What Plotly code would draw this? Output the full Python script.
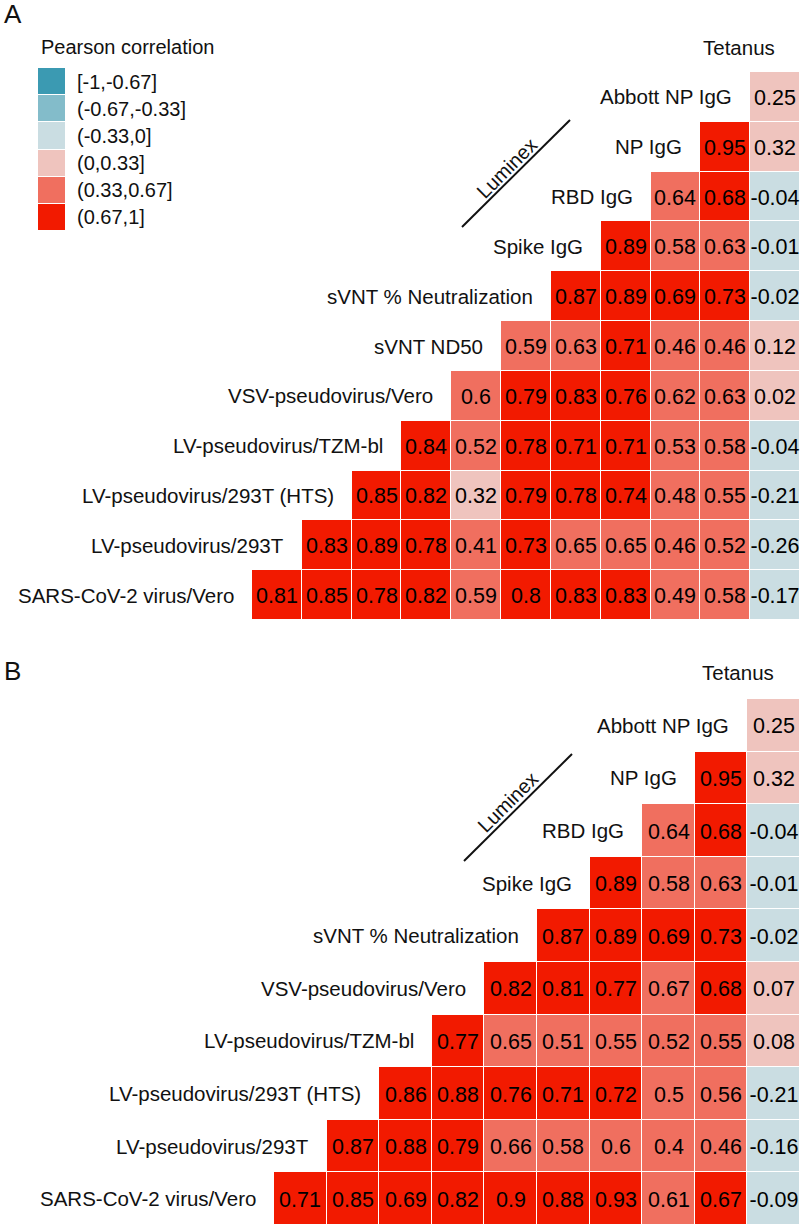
import plotly.graph_objects as go

W, H = 800, 1227
FONT = "Liberation Sans, Arial, Helvetica, sans-serif"

# ---------------- data ----------------
bin_labels = ["[-1,-0.67]", "(-0.67,-0.33]", "(-0.33,0]", "(0,0.33]", "(0.33,0.67]", "(0.67,1]"]
bin_colors = ["#3B9AB2", "#83BCCA", "#CADDE2", "#EFC4BE", "#F06F5F", "#F21A00"]
bin_edges = [-0.67, -0.33, 0.0, 0.33, 0.67]

# Panel A: row variables listed bottom -> top
labels_A = ["SARS-CoV-2 virus/Vero", "LV-pseudovirus/293T", "LV-pseudovirus/293T (HTS)",
            "LV-pseudovirus/TZM-bl", "VSV-pseudovirus/Vero", "sVNT ND50",
            "sVNT % Neutralization", "Spike IgG", "RBD IgG", "NP IgG", "Abbott NP IgG", "Tetanus"]
A_sars = [0.81, 0.85, 0.78, 0.82, 0.59, 0.80, 0.83, 0.83, 0.49, 0.58, -0.17]
A_lv293 = [0.83, 0.89, 0.78, 0.41, 0.73, 0.65, 0.65, 0.46, 0.52, -0.26]
A_hts = [0.85, 0.82, 0.32, 0.79, 0.78, 0.74, 0.48, 0.55, -0.21]
A_tzm = [0.84, 0.52, 0.78, 0.71, 0.71, 0.53, 0.58, -0.04]
A_vsv = [0.60, 0.79, 0.83, 0.76, 0.62, 0.63, 0.02]
A_nd50 = [0.59, 0.63, 0.71, 0.46, 0.46, 0.12]
A_pct = [0.87, 0.89, 0.69, 0.73, -0.02]
A_spike = [0.89, 0.58, 0.63, -0.01]
A_rbd = [0.64, 0.68, -0.04]
A_np = [0.95, 0.32]
A_abbott = [0.25]
rows_A = [A_sars, A_lv293, A_hts, A_tzm, A_vsv, A_nd50, A_pct, A_spike, A_rbd, A_np, A_abbott]

# Panel B
labels_B = ["SARS-CoV-2 virus/Vero", "LV-pseudovirus/293T", "LV-pseudovirus/293T (HTS)",
            "LV-pseudovirus/TZM-bl", "VSV-pseudovirus/Vero",
            "sVNT % Neutralization", "Spike IgG", "RBD IgG", "NP IgG", "Abbott NP IgG", "Tetanus"]
B_sars = [0.71, 0.85, 0.69, 0.82, 0.90, 0.88, 0.93, 0.61, 0.672, -0.09]
B_lv293 = [0.87, 0.88, 0.79, 0.66, 0.58, 0.60, 0.40, 0.46, -0.16]
B_hts = [0.86, 0.88, 0.76, 0.71, 0.72, 0.50, 0.56, -0.21]
B_tzm = [0.77, 0.65, 0.51, 0.55, 0.52, 0.55, 0.08]
B_vsv = [0.82, 0.81, 0.77, 0.668, 0.68, 0.07]
B_pct = [0.87, 0.89, 0.69, 0.73, -0.02]
B_spike = [0.89, 0.58, 0.63, -0.01]
B_rbd = [0.64, 0.68, -0.04]
B_np = [0.95, 0.32]
B_abbott = [0.25]
rows_B = [B_sars, B_lv293, B_hts, B_tzm, B_vsv, B_pct, B_spike, B_rbd, B_np, B_abbott]


def to_bin(v):
    return sum(1 for e in bin_edges if e < v)


def fmt(v):
    return "{:g}".format(round(v, 2))


colorscale = []
for i, c in enumerate(bin_colors):
    colorscale.append([i / 6, c])
    colorscale.append([(i + 1) / 6, c])


def build(rows):
    n = len(rows)
    z, t = [], []
    for r, vals in enumerate(rows):
        zr = [None] * n
        tr = [""] * n
        for k, v in enumerate(vals):
            zr[r + k] = to_bin(v)
            tr[r + k] = fmt(v)
        z.append(zr)
        t.append(tr)
    return z, t


fig = go.Figure()

# panel geometry (pixels)
panels = [
    dict(rows=rows_A, labels=labels_A, left=252, bottom=620, top=0, xa="x", ya="y", xn="xaxis", yn="yaxis"),
    dict(rows=rows_B, labels=labels_B, left=274, bottom=1225, top=630, xa="x2", ya="y2", xn="xaxis2", yn="yaxis2"),
]

annotations = []
for p in panels:
    rows = p["rows"]
    n = len(rows)
    cw = (W - p["left"]) / n
    z, t = build(rows)
    fig.add_trace(go.Heatmap(
        z=z, text=t, x=list(range(n)), y=list(range(n)),
        texttemplate="%{text}", textfont=dict(size=21.5, color="#000000", family=FONT),
        colorscale=colorscale, zmin=-0.5, zmax=5.5, showscale=False,
        xgap=1, ygap=1, hoverinfo="skip", xaxis=p["xa"], yaxis=p["ya"]))
    xr = [-0.5 - p["left"] / cw, n - 0.5]
    yr = [-0.5, -0.5 + (p["bottom"] - p["top"]) / cw]
    fig.layout[p["xn"]] = dict(domain=[0, 1], range=xr, visible=False, fixedrange=True)
    fig.layout[p["yn"]] = dict(domain=[1 - p["bottom"] / H, 1 - p["top"] / H], range=yr,
                               visible=False, fixedrange=True)
    for r, lab in enumerate(p["labels"]):
        xpos = r - 0.5 if r < n else r - 0.65
        annotations.append(dict(x=xpos, y=r, xref=p["xa"], yref=p["ya"], text=lab,
                                showarrow=False, xanchor="right", yanchor="middle", xshift=-16,
                                font=dict(size=20.5, color="#111111", family=FONT)))

# legend as small heatmap
fig.add_trace(go.Heatmap(
    z=[[i] for i in range(6)], x=[0], y=list(range(6)),
    colorscale=colorscale, zmin=-0.5, zmax=5.5, showscale=False,
    ygap=1, hoverinfo="skip", xaxis="x3", yaxis="y3"))
fig.layout["xaxis3"] = dict(domain=[38 / W, 65 / W], range=[-0.5, 0.5], visible=False, fixedrange=True)
fig.layout["yaxis3"] = dict(domain=[1 - 231 / H, 1 - 68 / H], range=[5.5, -0.5], visible=False, fixedrange=True)
for i, lab in enumerate(bin_labels):
    annotations.append(dict(x=75 / W, y=1 - (68 + 27.17 * (i + 0.5)) / H, xref="paper", yref="paper",
                            text=lab, showarrow=False, xanchor="left", yanchor="middle",
                            font=dict(size=20, color="#111111", family=FONT)))
annotations.append(dict(x=39 / W, y=1 - 47 / H, xref="paper", yref="paper", text="Pearson correlation",
                        showarrow=False, xanchor="left", yanchor="middle",
                        font=dict(size=20, color="#111111", family=FONT)))

# panel letters
annotations.append(dict(x=2 / W, y=1 - 14 / H, xref="paper", yref="paper", text="A", showarrow=False,
                        xanchor="left", yanchor="middle", font=dict(size=26, color="#111111", family=FONT)))
annotations.append(dict(x=2 / W, y=1 - 671 / H, xref="paper", yref="paper", text="B", showarrow=False,
                        xanchor="left", yanchor="middle", font=dict(size=26, color="#111111", family=FONT)))

# Luminex brackets
shapes = []
for (x0, y0, x1, y1, tx, ty) in [(462, 227, 570, 120, 507, 168), (464, 861, 572, 754, 508, 802)]:
    shapes.append(dict(type="line", xref="paper", yref="paper", x0=x0 / W, y0=1 - y0 / H,
                       x1=x1 / W, y1=1 - y1 / H, line=dict(color="#111111", width=2)))
    annotations.append(dict(x=tx / W, y=1 - ty / H, xref="paper", yref="paper", text="Luminex",
                            showarrow=False, textangle=-45, xanchor="center", yanchor="middle",
                            font=dict(size=20, color="#111111", family=FONT)))

fig.update_layout(width=W, height=H, autosize=False, margin=dict(l=0, r=0, t=0, b=0),
                  paper_bgcolor="white", plot_bgcolor="rgba(0,0,0,0)",
                  annotations=annotations, shapes=shapes, showlegend=False,
                  font=dict(family=FONT))

fig.write_html("out.html",
               config={"displayModeBar": False, "staticPlot": True},
               post_script="document.body.style.margin='0';document.body.style.padding='0';"
                           "document.documentElement.style.overflow='hidden';"
                           "document.body.style.overflow='hidden';")
